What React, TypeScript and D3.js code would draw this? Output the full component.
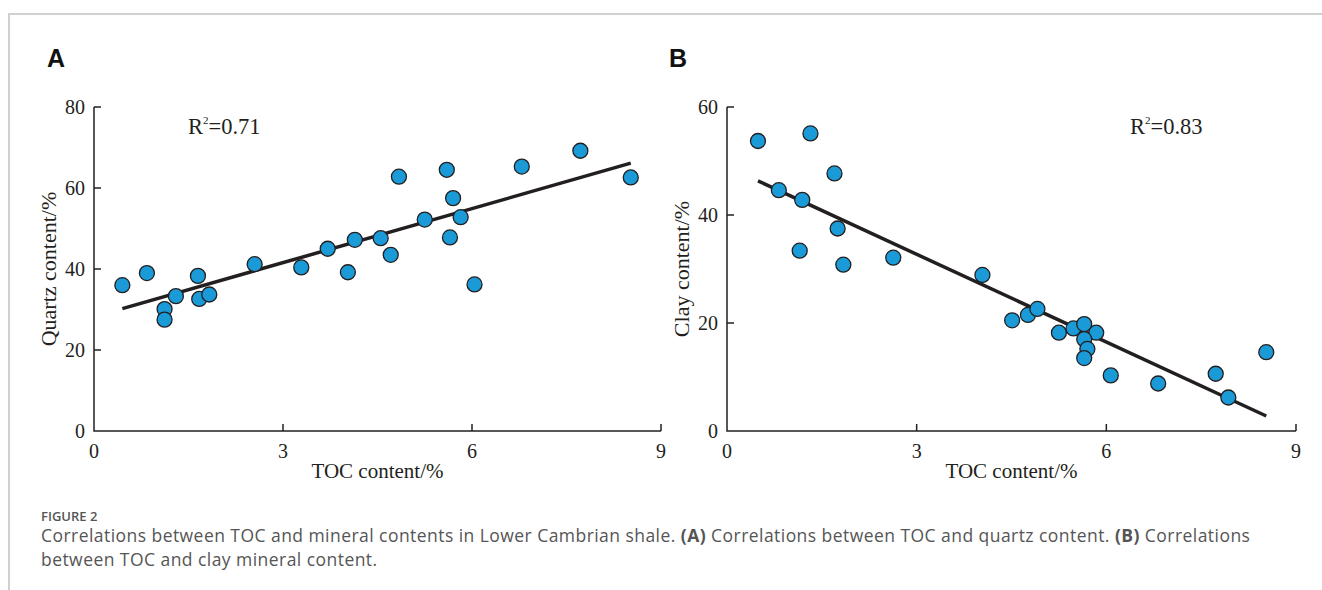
import React from "react";
import * as d3 from "d3";

// panel A: TOC vs quartz
const tocA = [0.45, 0.84, 1.12, 1.12, 1.3, 1.65, 1.67, 1.83, 2.55, 3.29, 3.71, 4.03, 4.14, 4.55, 4.71, 4.84, 5.25, 5.6, 5.65, 5.7, 5.82, 6.04, 6.79, 7.72, 8.52];
const quartz = [36.0, 39.0, 30.1, 27.5, 33.3, 38.3, 32.6, 33.7, 41.2, 40.4, 45.0, 39.2, 47.2, 47.6, 43.5, 62.8, 52.2, 64.5, 47.8, 57.5, 52.8, 36.2, 65.3, 69.2, 62.6];

// panel B: TOC vs clay
const tocB = [0.49, 1.32, 0.82, 1.19, 1.7, 1.75, 1.15, 1.84, 2.63, 4.04, 4.51, 4.76, 4.91, 5.25, 5.48, 5.65, 5.84, 5.65, 5.7, 5.65, 6.07, 6.82, 7.73, 7.93, 8.53];
const clay = [53.7, 55.1, 44.6, 42.8, 47.7, 37.5, 33.4, 30.8, 32.1, 28.9, 20.5, 21.5, 22.6, 18.2, 19.0, 19.8, 18.2, 17.0, 15.2, 13.5, 10.3, 8.8, 10.6, 6.2, 14.6];

const xTicks = [0, 3, 6, 9];
const quartzTicks = [0, 20, 40, 60, 80];
const clayTicks = [0, 20, 40, 60];

const W = 1322;
const H = 590;
const INK = "#231f20";
const SERIF = "'Liberation Serif', 'Times New Roman', serif";
const CAPTION = "'Open Sans', sans-serif";

function fit(xs: number[], ys: number[]) {
  const mx = d3.mean(xs)!;
  const my = d3.mean(ys)!;
  let sxy = 0, sxx = 0;
  xs.forEach((x, i) => {
    sxy += (x - mx) * (ys[i] - my);
    sxx += (x - mx) * (x - mx);
  });
  const b = sxy / sxx;
  return { a: my - b * mx, b };
}

type PanelProps = {
  letter: string;
  letterX: number;
  left: number;
  right: number;
  xs: number[];
  ys: number[];
  yMax: number;
  yTicks: number[];
  yTitle: string;
  r2: string;
  r2X: number;
};

function Panel(p: PanelProps) {
  const top = 107;
  const bottom = 431;
  const x = d3.scaleLinear().domain([0, 9]).range([p.left, p.right]);
  const y = d3.scaleLinear().domain([0, p.yMax]).range([bottom, top]);
  const { a, b } = fit(p.xs, p.ys);
  const [x0, x1] = d3.extent(p.xs) as [number, number];
  const line = d3.line<number>().x((d) => x(d)).y((d) => y(a + b * d));
  const pts = p.xs.map((v, i) => [v, p.ys[i]]);

  return (
    <g>
      <text x={p.letterX} y={67} fontFamily="'Liberation Sans', Arial, sans-serif" fontWeight="bold" fontSize={25} fill="#111">
        {p.letter}
      </text>
      {/* axes */}
      <path d={`M${x(0)},${y(p.yMax)}V${y(0)}H${x(9)}`} fill="none" stroke={INK} strokeWidth={1.5} />
      {p.yTicks.map((t) => (
        <g key={"y" + t}>
          {t > 0 && <line x1={x(0)} x2={x(0) + 7} y1={y(t)} y2={y(t)} stroke={INK} strokeWidth={1.5} />}
          <text x={x(0) - 9} y={y(t) + 7} textAnchor="end" fontFamily={SERIF} fontSize={20} fill={INK}>
            {t}
          </text>
        </g>
      ))}
      {xTicks.map((t) => (
        <g key={"x" + t}>
          {t > 0 && <line x1={x(t)} x2={x(t)} y1={y(0)} y2={y(0) - 7} stroke={INK} strokeWidth={1.5} />}
          <text x={x(t)} y={y(0) + 27} textAnchor="middle" fontFamily={SERIF} fontSize={20} fill={INK}>
            {t}
          </text>
        </g>
      ))}
      <text x={(x(0) + x(9)) / 2} y={478} textAnchor="middle" fontFamily={SERIF} fontSize={21} fill={INK}>
        TOC content/%
      </text>
      <text
        transform={`translate(${x(0) - 38},${(top + bottom) / 2}) rotate(-90)`}
        textAnchor="middle"
        fontFamily={SERIF}
        fontSize={22}
        fill={INK}
      >
        {p.yTitle}
      </text>
      <text x={p.r2X} y={134} fontFamily={SERIF} fontSize={22.5} fill={INK}>
        R<tspan fontSize={11} dy={-10}>2</tspan>
        <tspan dy={10}>=0.{p.r2}</tspan>
      </text>
      {/* trend line */}
      <path d={line([x0, x1])!} stroke={INK} strokeWidth={3.5} fill="none" />
      {pts.map(([vx, vy], i) => (
        <circle key={i} cx={x(vx)} cy={y(vy)} r={7.5} fill="#1a9ad6" stroke={INK} strokeWidth={1.3} />
      ))}
    </g>
  );
}

export default function App() {
  return (
    <svg width={W} height={H} style={{ position: "absolute", left: 0, top: 0, background: "#fff" }}>
      <rect width={W} height={H} fill="#fff" />
      <path d={`M9,${H}V14H${W}`} fill="none" stroke="#d0d0d0" strokeWidth={2} />
      <Panel letter="A" letterX={47} left={94} right={661} xs={tocA} ys={quartz} yMax={80} yTicks={quartzTicks} yTitle="Quartz content/%" r2="71" r2X={188} />
      <Panel letter="B" letterX={669} left={727} right={1296} xs={tocB} ys={clay} yMax={60} yTicks={clayTicks} yTitle="Clay content/%" r2="83" r2X={1130} />
      <text x={41} y={521} fontFamily={CAPTION} fontSize={13} fontWeight={600} fill="#555">
        FIGURE 2
      </text>
      <text x={41} y={542} fontFamily={CAPTION} fontSize={17.5} letterSpacing={0.45} fill="#555">
        Correlations between TOC and mineral contents in Lower Cambrian shale. <tspan fontWeight="bold">(A)</tspan> Correlations between TOC and quartz content. <tspan fontWeight="bold">(B)</tspan> Correlations
      </text>
      <text x={41} y={566} fontFamily={CAPTION} fontSize={17.5} letterSpacing={0.45} fill="#555">
        between TOC and clay mineral content.
      </text>
    </svg>
  );
}
